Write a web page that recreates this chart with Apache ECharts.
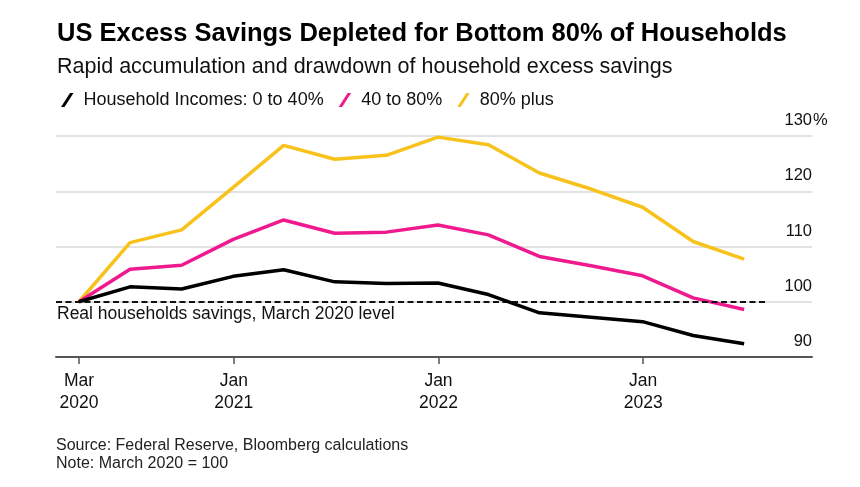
<!DOCTYPE html>
<html>
<head>
<meta charset="utf-8">
<script src="https://cdn.jsdelivr.net/npm/echarts@6/dist/echarts.min.js"></script>
<style>
html,body{margin:0;padding:0;background:#fff;}
#chart{width:860px;height:487px;}
</style>
</head>
<body>
<div id="chart"></div>
<script>
// ---- data ----
const quarters = ['2020-03-31','2020-06-30','2020-09-30','2020-12-31','2021-03-31','2021-06-30','2021-09-30','2021-12-31','2022-03-31','2022-06-30','2022-09-30','2022-12-31','2023-03-31','2023-06-30'];
const incomes0to40 = [100,102.7,102.3,104.6,105.8,103.6,103.3,103.4,101.3,98.0,97.2,96.4,93.9,92.4];
const incomes40to80 = [100,105.9,106.6,111.3,114.8,112.4,112.6,113.9,112.1,108.2,106.5,104.7,100.7,98.6];
const incomes80plus = [100,110.7,113.0,120.7,128.3,125.8,126.5,129.8,128.4,123.3,120.4,117.1,110.9,107.7];
const seriesNames = ['Household Incomes: 0 to 40%','40 to 80%','80% plus'];
const xTickDates = ['2020-03-31','2021-01-01','2022-01-01','2023-01-01'];
const xTickLabels = ['Mar\n2020','Jan\n2021','Jan\n2022','Jan\n2023'];
const yTicks = [90,100,110,120,130];
const baselineValue = 100;

const ts = s => { const p = s.split('-').map(Number); return Date.UTC(p[0], p[1]-1, p[2]); };
const DAY = 86400000;
const xMin = ts(quarters[0]) - 41*DAY;
const xMax = ts(quarters[quarters.length-1]) + 121*DAY;
const tickTs = xTickDates.map(ts);
const pair = arr => quarters.map((q,i)=>[ts(q), arr[i]]);

const FONT = '"Liberation Sans", Arial, Helvetica, sans-serif';
const colors = ['#000000','#ee1a8e','#f8c21c'];
const icon = 'path://M0,14 L9,0 L12.5,0 L3.5,14 Z';

const chart = echarts.init(document.getElementById('chart'), null, {renderer:'canvas'});
chart.setOption({
  animation:false,
  backgroundColor:'#fff',
  textStyle:{fontFamily:FONT},
  title:[
    {
      text:'US Excess Savings Depleted for Bottom 80% of Households',
      left:52, top:16,
      textStyle:{fontFamily:FONT, fontWeight:'bold', fontSize:25.5, color:'#000'}
    },
    {
      text:'Rapid accumulation and drawdown of household excess savings',
      left:52, top:51,
      textStyle:{fontFamily:FONT, fontWeight:'normal', fontSize:21.5, color:'#111'}
    }
  ],
  legend:{
    left:56, top:86,
    itemWidth:12.5, itemHeight:14, itemGap:15,
    icon: icon,
    textStyle:{fontFamily:FONT, fontSize:18, color:'#111', padding:[0,0,0,5]},
    data: seriesNames.map(n=>({name:n, icon:icon}))
  },
  grid:{left:56, right:48, top:136, bottom:130, containLabel:false},
  xAxis:{
    type:'value', min:xMin, max:xMax,
    splitLine:{show:false},
    axisLine:{show:true, onZero:false, lineStyle:{color:'#555', width:2}},
    axisTick:{show:true, customValues:tickTs, length:7, lineStyle:{color:'#555', width:1.5}},
    axisLabel:{
      customValues:tickTs,
      formatter:(v)=>{ const i = tickTs.indexOf(v); return i>=0 ? xTickLabels[i] : ''; },
      fontFamily:FONT, fontSize:17.5, color:'#111', lineHeight:22, margin:13
    }
  },
  yAxis:{
    type:'value', position:'right', min:yTicks[0], max:yTicks[yTicks.length-1], interval:10,
    axisLine:{show:false}, axisTick:{show:false},
    splitLine:{show:true, lineStyle:{color:'#d9d9d9', width:1.5}},
    axisLabel:{
      inside:true, margin:0, align:'right', verticalAlign:'bottom',
      padding:[0,0,7,0],
      fontFamily:FONT, fontSize:16.5, color:'#111',
      formatter:(v)=> String(v)
    }
  },
  graphic:[
    {type:'text', left:813, top:112, style:{text:'%', font:'16.5px '+FONT, fill:'#111'}},
    {type:'text', left:57, top:305, style:{text:'Real households savings, March 2020 level', font:'17.5px '+FONT, fill:'#111'}},
    {type:'text', left:56, top:437, style:{text:'Source: Federal Reserve, Bloomberg calculations\nNote: March 2020 = 100', font:'16px '+FONT, fill:'#222', lineHeight:18}}
  ],
  series:[
    {name:seriesNames[2], type:'line', data:pair(incomes80plus), showSymbol:false, symbol:'none', color:colors[2], lineStyle:{width:3.5, color:colors[2]}, z:3},
    {name:seriesNames[1], type:'line', data:pair(incomes40to80), showSymbol:false, symbol:'none', color:colors[1], lineStyle:{width:3.5, color:colors[1]}, z:4},
    {name:seriesNames[0], type:'line', data:pair(incomes0to40), showSymbol:false, symbol:'none', color:colors[0], lineStyle:{width:3.5, color:colors[0]}, z:5,
      markLine:{
        silent:true, symbol:'none', label:{show:false},
        lineStyle:{type:[6,3.5], color:'#111', width:1.8},
        data:[[{coord:[xMin, baselineValue]},{coord:[ts(quarters[quarters.length-1]) + 41*DAY, baselineValue]}]]
      }
    }
  ]
});
</script>
</body>
</html>
